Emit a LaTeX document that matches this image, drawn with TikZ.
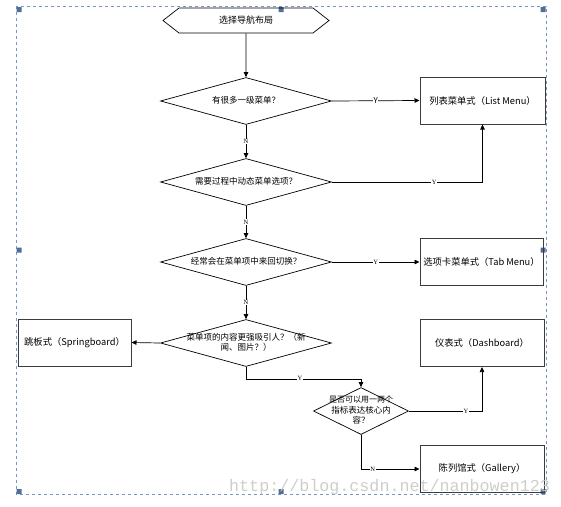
\documentclass[tikz,border=0pt]{standalone}
\usepackage{fontspec}
\setmainfont{Noto Sans CJK SC}
\newfontfamily\lblfont{Liberation Serif}
\newfontfamily\wmfont{Liberation Mono}
\usetikzlibrary{shapes.geometric,shapes.symbols,arrows.meta}

\definecolor{framecol}{RGB}{122,150,192}
\definecolor{handlecol}{RGB}{79,110,152}
\definecolor{boxgray}{RGB}{60,60,60}
\definecolor{wmgray}{RGB}{200,200,196}

% text that does not widen the diamond
\newcommand{\dtext}[1]{\smash{\raisebox{-0.25em}{\makebox[0pt]{\begin{tabular}[c]{@{}c@{}}#1\end{tabular}}}}}

\begin{document}
\begin{tikzpicture}[x=1pt, y=-1pt,
    font=\fontsize{8.5}{10}\selectfont,
    decision/.style={diamond, draw=black, line width=0.7pt,
      minimum width=171, minimum height=47, inner sep=0},
    outbox/.style={rectangle, draw=boxgray, line width=1pt,
      minimum width=124, minimum height=47, inner sep=1pt,
      font=\fontsize{9.3}{11}\selectfont},
    startsig/.style={signal, signal to=west and east, draw=black, line width=0.7pt,
      minimum width=166, minimum height=25, signal pointer angle=76, inner sep=0},
    arr/.style={-{Triangle[length=5pt,width=4.5pt]}, line width=0.7pt},
    yn/.style={font=\lblfont\fontsize{6.5}{7}\selectfont, fill=white, inner sep=0.6pt}]

  \useasboundingbox (0,0) rectangle (561,506);

  % selection frame
  \draw[framecol, dashed, line width=0.6pt] (16,6) rectangle (546,494);
  \fill[handlecol]
    (16.5,7) rectangle ++(5,5)  (278.5,7) rectangle ++(5,5)  (540.5,7) rectangle ++(5,5)
    (16.5,247.5) rectangle ++(5,5)  (540.5,247.5) rectangle ++(5,5)
    (16.5,489) rectangle ++(5,5)  (278.5,489) rectangle ++(5,5)  (540.5,489) rectangle ++(5,5);

  % nodes
  \node[startsig] (start) at (246,20.5) {\fontsize{9}{10}\selectfont 选择导航布局};

  \node[decision] (q1) at (246,101) {\dtext{有很多一级菜单？}};
  \node[decision] (q2) at (246,182) {\dtext{需要过程中动态菜单选项？}};
  \node[decision] (q3) at (246,262) {\dtext{经常会在菜单项中来回切换？}};
  \node[decision] (q4) at (246,343)
    {\dtext{\fontsize{8.5}{11}\selectfont 菜单项的内容更强吸引人？（新\\闻、图片？）}};
  \node[decision, minimum width=95, minimum height=47] (q5) at (361,411)
    {\dtext{\fontsize{8}{9.3}\selectfont 是否可以用一两个\\指标表达核心内\\容？}};

  \node[outbox, minimum width=125] (list) at (482.5,100.5) {列表菜单式（List Menu）};
  \node[outbox, minimum width=123] (tab) at (481.5,262) {选项卡菜单式（Tab Menu）};
  \node[outbox, minimum width=113] (spring) at (74.5,342.5) {跳板式（Springboard）};
  \node[outbox] (dash) at (482,343) {仪表式（Dashboard）};
  \node[outbox] (gall) at (482,469) {陈列馆式（Gallery）};

  % connectors
  \draw[arr] (start) -- (q1);
  \draw[arr] (q1.east) -- node[yn, font=\fontsize{8}{8}\selectfont] {Y} (list.west);
  \draw[arr] (q1.south) -- node[yn] {N} (q2.north);
  \draw[arr] (q2.east) -| node[yn, pos=0.34] {Y} (list.south);
  \draw[arr] (q2.south) -- node[yn] {N} (q3.north);
  \draw[arr] (q3.east) -- node[yn] {Y} (tab.west);
  \draw[arr] (q3.south) -- node[yn] {N} (q4.north);
  \draw[arr] (q4.west) -- (spring.east);
  \draw[arr] (q4.south) -- ++(0,12) -| node[yn, pos=0.235] {Y} (q5.north);
  \draw[arr] (q5.east) -| node[yn, pos=0.39] {Y} (dash.south);
  \draw[arr] (q5.south) |- node[yn, pos=0.6] {N} (gall.west);

  % watermark
  \node[anchor=base west, inner sep=0, text=wmgray, opacity=0.9,
    font=\wmfont\fontsize{16.7}{17}\selectfont] (wm) at (229,491)
    {http://blog.csdn.net/nanbowen123};
\end{tikzpicture}
\end{document}
